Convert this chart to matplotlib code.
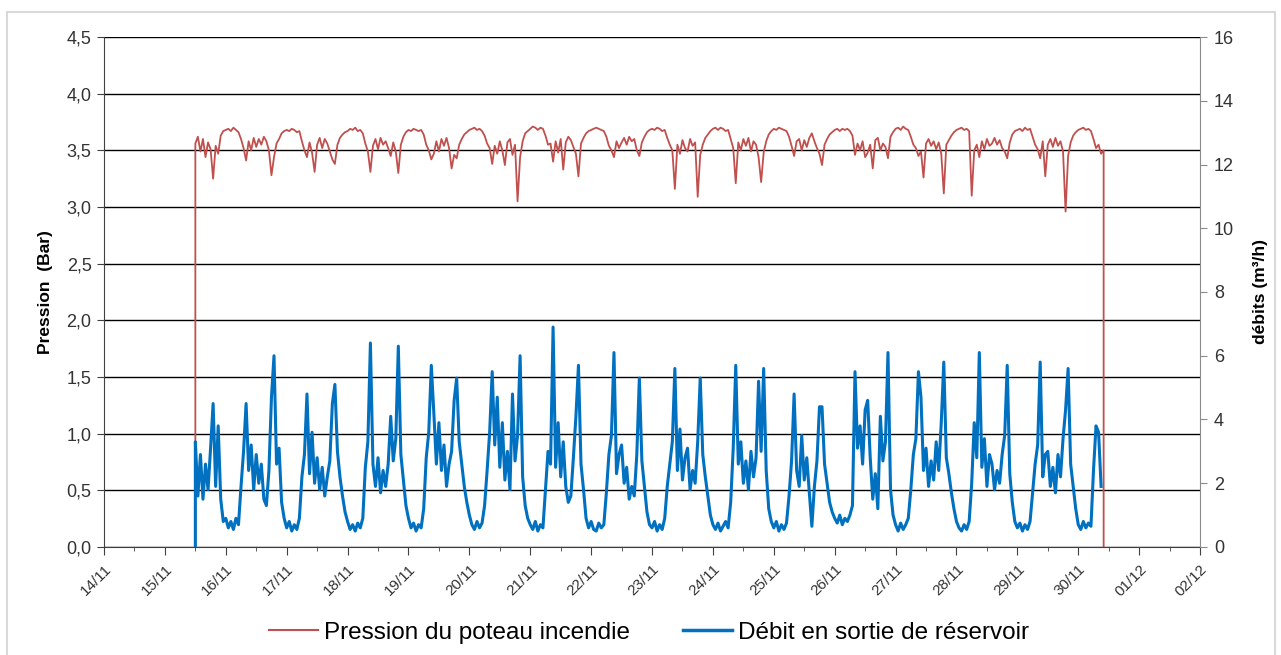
import numpy as np
import pandas as pd
import matplotlib
matplotlib.use("Agg")
import matplotlib.pyplot as plt
import matplotlib.dates as mdates
from matplotlib.ticker import FuncFormatter, MultipleLocator
from matplotlib.lines import Line2D
from matplotlib.patches import Rectangle

plt.rcParams['font.family'] = ['Liberation Sans', 'DejaVu Sans']

# hourly records, first sample 15/11 12:00
debut = pd.Timestamp("2013-11-15 12:00")

# pression au poteau incendie (bar), 15/11 12h -> 30/11 10h
pression = [
    3.56, 3.62, 3.49, 3.60, 3.44, 3.57, 3.51, 3.25, 3.54, 3.47, 3.63, 3.67,
    3.68, 3.69, 3.67, 3.70, 3.68, 3.66, 3.60, 3.52, 3.41, 3.58, 3.50, 3.61, 3.53, 3.60, 3.55, 3.62, 3.58, 3.50, 3.28, 3.44, 3.56, 3.60, 3.65, 3.67,
    3.68, 3.67, 3.69, 3.68, 3.66, 3.67, 3.58, 3.50, 3.44, 3.57, 3.48, 3.31, 3.55, 3.61, 3.52, 3.60, 3.56, 3.49, 3.42, 3.38, 3.55, 3.61, 3.64, 3.66,
    3.67, 3.69, 3.68, 3.70, 3.67, 3.68, 3.65, 3.56, 3.49, 3.31, 3.54, 3.60, 3.51, 3.61, 3.55, 3.58, 3.52, 3.45, 3.57, 3.49, 3.30, 3.55, 3.62, 3.66,
    3.68, 3.67, 3.69, 3.68, 3.67, 3.68, 3.64, 3.55, 3.50, 3.42, 3.47, 3.58, 3.49, 3.60, 3.54, 3.61, 3.52, 3.34, 3.46, 3.43, 3.55, 3.60, 3.64, 3.66,
    3.68, 3.69, 3.70, 3.68, 3.69, 3.67, 3.63, 3.56, 3.52, 3.38, 3.54, 3.47, 3.58, 3.50, 3.37, 3.57, 3.60, 3.46, 3.55, 3.05, 3.44, 3.58, 3.65, 3.67,
    3.69, 3.71, 3.70, 3.68, 3.70, 3.69, 3.63, 3.55, 3.56, 3.40, 3.58, 3.48, 3.60, 3.33, 3.57, 3.62, 3.59, 3.53, 3.47, 3.27, 3.56, 3.61, 3.65, 3.67,
    3.68, 3.69, 3.70, 3.69, 3.68, 3.67, 3.62, 3.54, 3.50, 3.44, 3.58, 3.52, 3.57, 3.61, 3.55, 3.62, 3.58, 3.60, 3.50, 3.45, 3.57, 3.62, 3.66, 3.68,
    3.69, 3.68, 3.70, 3.69, 3.67, 3.68, 3.61, 3.55, 3.50, 3.16, 3.55, 3.47, 3.59, 3.52, 3.49, 3.60, 3.54, 3.57, 3.09, 3.46, 3.55, 3.61, 3.64, 3.67,
    3.69, 3.70, 3.68, 3.70, 3.69, 3.67, 3.68, 3.60, 3.52, 3.21, 3.57, 3.50, 3.60, 3.54, 3.61, 3.49, 3.58, 3.55, 3.44, 3.22, 3.48, 3.58, 3.64, 3.67,
    3.69, 3.68, 3.70, 3.69, 3.68, 3.67, 3.62, 3.54, 3.45, 3.58, 3.60, 3.50, 3.59, 3.53, 3.61, 3.65, 3.58, 3.52, 3.47, 3.37, 3.55, 3.60, 3.64, 3.66,
    3.68, 3.69, 3.67, 3.69, 3.68, 3.69, 3.67, 3.63, 3.46, 3.56, 3.50, 3.58, 3.44, 3.48, 3.55, 3.34, 3.59, 3.61, 3.50, 3.56, 3.53, 3.43, 3.62, 3.66,
    3.69, 3.70, 3.68, 3.71, 3.69, 3.68, 3.62, 3.55, 3.52, 3.45, 3.49, 3.26, 3.56, 3.60, 3.54, 3.58, 3.51, 3.57, 3.47, 3.12, 3.55, 3.59, 3.63, 3.66,
    3.68, 3.69, 3.70, 3.68, 3.69, 3.67, 3.10, 3.50, 3.55, 3.44, 3.58, 3.51, 3.60, 3.54, 3.56, 3.61, 3.55, 3.59, 3.52, 3.49, 3.43, 3.57, 3.64, 3.67,
    3.68, 3.69, 3.67, 3.70, 3.68, 3.69, 3.62, 3.55, 3.51, 3.43, 3.58, 3.27, 3.55, 3.60, 3.53, 3.61, 3.54, 3.58, 3.49, 2.96, 3.45, 3.57, 3.63, 3.66,
    3.68, 3.69, 3.70, 3.68, 3.69, 3.67, 3.60, 3.52, 3.55, 3.47, 3.50,
]

# debit en sortie de reservoir (m3/h), 15/11 12h -> 30/11 09h
debit = [
    3.3, 1.6, 2.9, 1.5, 2.6, 1.8, 3.1, 4.5, 1.9, 3.8, 1.5, 0.8,
    0.9, 0.6, 0.8, 0.55, 0.9, 0.7, 1.9, 3.0, 4.5, 2.4, 3.2, 1.8, 2.9, 2.0, 2.6, 1.5, 1.3, 2.4, 4.7, 6.0, 2.6, 3.1, 1.4, 0.9,
    0.6, 0.8, 0.5, 0.7, 0.55, 0.9, 2.2, 2.9, 4.8, 2.3, 3.6, 2.0, 2.8, 1.8, 2.5, 1.6, 2.2, 2.7, 4.5, 5.1, 3.0, 2.2, 1.6, 1.1,
    0.8, 0.55, 0.7, 0.5, 0.75, 0.6, 0.9, 2.5, 3.3, 6.4, 2.6, 1.9, 2.8, 1.7, 2.4, 1.9, 2.6, 4.1, 2.7, 3.4, 6.3, 2.9, 2.1, 1.3,
    0.9, 0.6, 0.75, 0.5, 0.7, 0.6, 1.2, 2.8, 3.6, 5.7, 4.2, 2.6, 3.9, 2.4, 3.2, 1.9, 2.6, 3.0, 4.6, 5.3, 3.3, 2.6, 1.9, 1.4,
    1.0, 0.7, 0.55, 0.8, 0.6, 0.75, 1.3, 2.4, 3.6, 5.5, 3.2, 4.7, 2.5, 3.9, 2.1, 3.0, 1.8, 4.8, 2.7, 3.5, 6.0, 2.2, 1.3, 0.9,
    0.7, 0.55, 0.8, 0.5, 0.7, 0.6, 1.8, 3.0, 2.6, 6.9, 2.5, 3.9, 2.2, 3.3, 1.9, 1.4, 1.6, 2.8, 4.1, 5.7, 2.6, 1.8, 0.9, 0.6,
    0.8, 0.55, 0.5, 0.75, 0.6, 0.7, 1.7, 2.9, 3.5, 6.1, 2.3, 2.9, 3.2, 2.0, 2.5, 1.5, 1.9, 1.6, 2.9, 5.3, 2.7, 1.9, 1.1, 0.7,
    0.6, 0.8, 0.5, 0.7, 0.55, 0.9, 1.9, 2.6, 3.3, 5.6, 2.4, 3.7, 2.1, 2.8, 3.1, 1.8, 2.4, 2.0, 3.3, 5.3, 2.9, 2.2, 1.6, 1.0,
    0.7, 0.55, 0.75, 0.5, 0.65, 0.8, 0.6, 1.4, 3.1, 5.7, 2.6, 3.3, 2.0, 2.7, 1.8, 3.0, 2.2, 2.8, 5.2, 3.0, 5.6, 2.4, 1.2, 0.8,
    0.6, 0.8, 0.5, 0.7, 0.55, 0.75, 1.6, 2.7, 4.8, 2.4, 1.9, 3.5, 2.1, 2.8, 1.7, 0.65, 1.9, 2.7, 4.4, 4.4, 2.6, 2.0, 1.4, 1.1,
    0.9, 0.75, 1.0, 0.7, 0.9, 0.8, 1.0, 1.3, 5.5, 3.1, 3.8, 2.6, 4.3, 4.6, 2.8, 1.5, 2.3, 1.2, 4.1, 2.7, 3.3, 6.1, 1.8, 1.0,
    0.7, 0.5, 0.75, 0.55, 0.7, 0.9, 1.8, 2.9, 3.4, 5.5, 4.7, 2.4, 3.1, 1.9, 2.7, 2.1, 3.3, 2.4, 3.9, 5.8, 2.8, 2.3, 1.7, 1.2,
    0.8, 0.6, 0.5, 0.7, 0.55, 0.8, 2.0, 3.9, 2.8, 6.1, 2.5, 3.4, 1.9, 2.9, 2.6, 1.8, 2.4, 2.0, 2.9, 3.5, 5.7, 2.3, 1.4, 0.8,
    0.6, 0.75, 0.5, 0.7, 0.55, 0.8, 1.7, 2.6, 3.2, 5.8, 2.2, 2.9, 3.0, 1.9, 2.5, 1.7, 2.9, 2.2, 3.4, 4.3, 5.6, 2.6, 1.9, 1.2,
    0.7, 0.55, 0.8, 0.6, 0.75, 0.65, 2.4, 3.8, 3.6, 1.9,
]

rouge = '#C0504D'
bleu = '#0070C0'
gris = '#404040'

t_p = mdates.date2num((debut + pd.to_timedelta(np.arange(len(pression)), unit='h')).to_pydatetime())
t_d = mdates.date2num((debut + pd.to_timedelta(np.arange(len(debit)), unit='h')).to_pydatetime())

# the pressure logger reads zero before and after the recording window
x_p = np.r_[t_p[0], t_p, t_p[-1]]
y_p = np.r_[0.0, pression, 0.0]
x_d = np.r_[t_d[0], t_d]
y_d = np.r_[0.0, debit]

fig = plt.figure(figsize=(12.81, 6.55), dpi=100)
ax = fig.add_axes([0.0812, 0.1649, 0.8556, 0.7786])
ax2 = ax.twinx()

ax.plot(x_p, y_p, color=rouge, lw=1.3)
ax2.plot(x_d, y_d, color=bleu, lw=2.2)

ax.set_ylim(0, 4.5)
ax2.set_ylim(0, 16)
ax.set_xlim(mdates.date2num(pd.Timestamp("2013-11-14").to_pydatetime()),
            mdates.date2num(pd.Timestamp("2013-12-02").to_pydatetime()))

ax.yaxis.set_major_locator(MultipleLocator(0.5))
ax.yaxis.set_major_formatter(FuncFormatter(lambda v, _: f"{v:.1f}".replace('.', ',')))
ax2.yaxis.set_major_locator(MultipleLocator(2))

ax.xaxis.set_major_locator(mdates.DayLocator())
ax.xaxis.set_minor_locator(mdates.HourLocator(byhour=[12]))
ax.xaxis.set_major_formatter(mdates.DateFormatter('%d/%m'))

ax.yaxis.grid(True, color='black', lw=1.0)
ax.set_axisbelow(True)

for s in ['top', 'right']:
    ax.spines[s].set_visible(False)
for s in ['top', 'left', 'bottom']:
    ax2.spines[s].set_visible(False)
ax.spines['left'].set_color(gris)
ax.spines['bottom'].set_color(gris)
ax2.spines['right'].set_color('#8C8C8C')

ax.tick_params(axis='y', direction='out', length=5, color=gris, labelsize=13, labelcolor='#333333', pad=4)
ax2.tick_params(axis='y', direction='out', length=5, color='#8C8C8C', labelsize=13, labelcolor='#333333', pad=5)
ax.tick_params(axis='x', which='major', direction='out', length=6, color=gris, labelsize=11, labelcolor='#333333', pad=5)
ax.tick_params(axis='x', which='minor', direction='out', length=3, color=gris)
for lab in ax.get_xticklabels():
    lab.set_rotation(45)
    lab.set_ha('right')
    lab.set_rotation_mode('anchor')

ax.set_ylabel('Pression  (Bar)', fontsize=12.5, fontweight='bold', color='black', labelpad=10)
ax2.set_ylabel('débits (m³/h)', fontsize=12.5, fontweight='bold', color='black', labelpad=14)

handles = [Line2D([], [], color=rouge, lw=1.5), Line2D([], [], color=bleu, lw=2.5)]
fig.legend(handles, ['Pression du poteau incendie', 'Débit en sortie de réservoir'],
           loc='center', bbox_to_anchor=(0.5066, 0.034), ncol=2, frameon=False,
           fontsize=17.5, handlelength=2.0, handletextpad=0.25, columnspacing=2.2)

fig.add_artist(Rectangle((7 / 1281, -0.05), 1268 / 1281, (643 / 655) + 0.05,
                         transform=fig.transFigure, fill=False, ec='#D9D9D9', lw=1.5))

fig.savefig('out.png', dpi=100)
